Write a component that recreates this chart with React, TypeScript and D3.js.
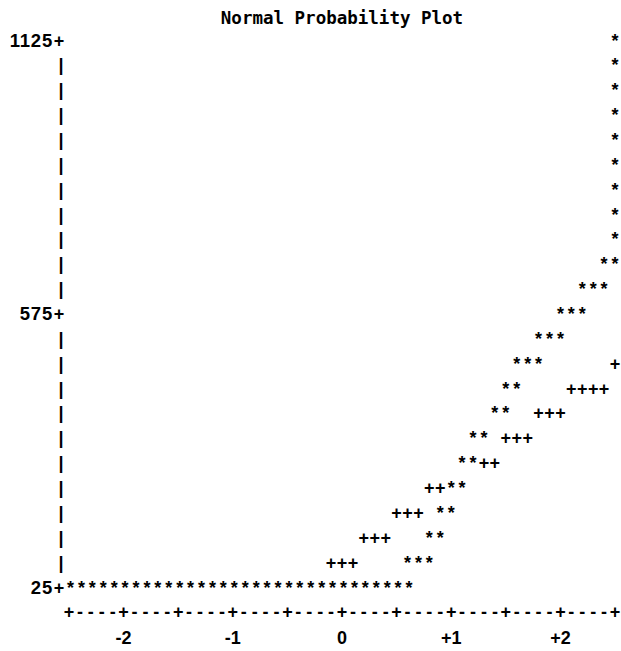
import React from "react";
import * as d3 from "d3";

// Normal quantile columns (every 0.1) and response rows (every 50)
const title = "Normal Probability Plot";
const yTicks = [25, 575, 1125];
const yTickLabels = ["25", "575", "1125"];
const xTicks = [-2, -1, 0, 1, 2];
const xTickLabels = ["-2", "-1", "0", "+1", "+2"];

// Observed points '*' : [normal quantile, value]
const starQ = [
  2.5, 2.5, 2.5, 2.5, 2.5, 2.5, 2.5, 2.5, 2.5,
  2.4, 2.5,
  2.2, 2.3, 2.4,
  2.0, 2.1, 2.2,
  1.8, 1.9, 2.0,
  1.6, 1.7, 1.8,
  1.5, 1.6,
  1.4, 1.5,
  1.2, 1.3,
  1.1, 1.2,
  1.0, 1.1,
  0.9, 1.0,
  0.8, 0.9,
  0.6, 0.7, 0.8,
];
const starV = [
  1125, 1075, 1025, 975, 925, 875, 825, 775, 725,
  675, 675,
  625, 625, 625,
  575, 575, 575,
  525, 525, 525,
  475, 475, 475,
  425, 425,
  375, 375,
  325, 325,
  275, 275,
  225, 225,
  175, 175,
  125, 125,
  75, 75, 75,
];
// bottom row of stars at 25 from -2.5 to 0.6
const bottomStarQ = [
  -2.5, -2.4, -2.3, -2.2, -2.1, -2.0, -1.9, -1.8, -1.7, -1.6, -1.5, -1.4, -1.3, -1.2, -1.1, -1.0,
  -0.9, -0.8, -0.7, -0.6, -0.5, -0.4, -0.3, -0.2, -0.1, 0.0, 0.1, 0.2, 0.3, 0.4, 0.5, 0.6,
];
const bottomStarV = 25;

// Reference line '+'
const plusQ = [
  2.5,
  2.1, 2.2, 2.3, 2.4,
  1.8, 1.9, 2.0,
  1.5, 1.6, 1.7,
  1.3, 1.4,
  0.8, 0.9,
  0.5, 0.6, 0.7,
  0.2, 0.3, 0.4,
  -0.1, 0.0, 0.1,
];
const plusV = [
  475,
  425, 425, 425, 425,
  375, 375, 375,
  325, 325, 325,
  275, 275,
  225, 225,
  175, 175, 175,
  125, 125, 125,
  75, 75, 75,
];

const W = 621;
const H = 651;

export default function App() {
  const x = d3.scaleLinear().domain([-2.5, 2.5]).range([69, 615]);
  const y = d3.scaleLinear().domain([25, 1125]).range([587, 40]);
  const rows = d3.range(25, 1126, 50);
  const cols = d3.range(0, 51).map((i) => -2.5 + i * 0.1);
  const axisX = x(-2.5) - 9;
  const base = 6.5;
  const font = "'Liberation Sans', Arial, sans-serif";
  const fs = 18;
  const stars = [
    ...starQ.map((q, i) => [q, starV[i]]),
    ...bottomStarQ.map((q) => [q, bottomStarV]),
  ];
  const pluses = plusQ.map((q, i) => [q, plusV[i]]);
  const axisRowY = y(25) + 24.5;
  const labelRowY = axisRowY + 26;

  return (
    <svg
      width={W}
      height={H}
      style={{ position: "absolute", left: 0, top: 0, background: "#fff" }}
      fontFamily={font}
      fontSize={fs}
      fontWeight="bold"
    >
      <rect width={W} height={H} fill="#fff" />
      <text
        x={x(0)}
        y={24}
        textAnchor="middle"
        fontFamily="'DejaVu Sans Mono', monospace"
        fontWeight="bold"
        fontSize={17.5}
      >
        {title}
      </text>
      {rows.map((v) => {
        const isTick = yTicks.includes(v);
        return (
          <text key={"ax" + v} x={isTick ? axisX - 1 : axisX + 1} y={y(v) + base} textAnchor="middle">
            {isTick ? "+" : "|"}
          </text>
        );
      })}
      {yTicks.map((v, i) => (
        <text
          key={"yl" + v}
          x={axisX - 7}
          y={y(v) + base}
          textAnchor="end"
          fontSize={18.5}
          letterSpacing={0.8}
        >
          {yTickLabels[i]}
        </text>
      ))}
      {stars.map(([q, v], i) => (
        <text key={"s" + i} x={x(q) + (v === bottomStarV ? 1.5 : 0)} y={y(v) + base} textAnchor="middle">
          *
        </text>
      ))}
      {pluses.map(([q, v], i) => (
        <text key={"p" + i} x={x(q)} y={y(v) + base} textAnchor="middle">
          +
        </text>
      ))}
      {cols.map((q, i) => (
        <text key={"xa" + i} x={x(q)} y={axisRowY + base} textAnchor="middle">
          {i % 5 === 0 ? "+" : "-"}
        </text>
      ))}
      {xTicks.map((t, i) => (
        <text key={"xl" + t} x={x(t)} y={labelRowY + base} textAnchor="middle">
          {xTickLabels[i]}
        </text>
      ))}
    </svg>
  );
}
